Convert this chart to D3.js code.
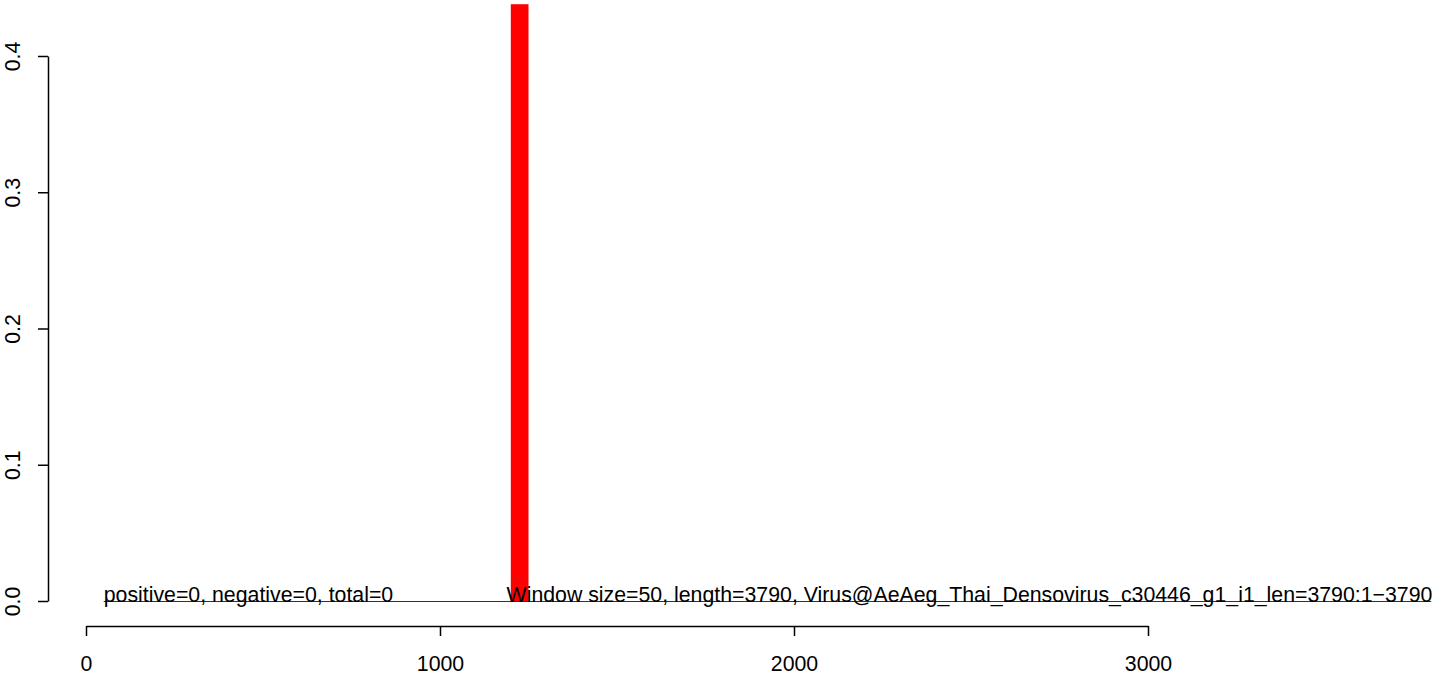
<!DOCTYPE html>
<html>
<head>
<meta charset="utf-8">
<script src="https://cdn.jsdelivr.net/npm/d3@7"></script>
<style>
  html, body { margin: 0; padding: 0; background: #fff; }
  svg { display: block; font-family: "Liberation Sans", Arial, sans-serif; }
</style>
</head>
<body>
<svg id="chart" width="1444" height="676"></svg>
<script>
// ---- data ----
const windowSize = 50;
const seqLength = 3790;
const binStarts = [1200];
const binValues = [0.438];
const xTicks = [0, 1000, 2000, 3000];
const yTicks = [0.0, 0.1, 0.2, 0.3, 0.4];
const statsLabel = "positive=0, negative=0, total=0";
const infoLabel = "Window size=50, length=3790, Virus@AeAeg_Thai_Densovirus_c30446_g1_i1_len=3790:1\u22123790";
const baselineRange = [50, 3800];
const statsLabelX = 50;
const infoLabelX = 1188;

// ---- layout ----
const svg = d3.select("#chart");
const x = d3.scaleLinear().domain([0, 3000]).range([86, 1148]);
const y = d3.scaleLinear().domain([0, 0.4]).range([601, 56]);
const fontSize = 21.3;

// bars
svg.append("g").selectAll("rect")
  .data(binStarts.map((s, i) => ({ s, v: binValues[i] })))
  .join("rect")
  .attr("x", d => x(d.s))
  .attr("width", d => x(d.s + windowSize) - x(d.s))
  .attr("y", d => y(d.v))
  .attr("height", d => y(0) - y(d.v))
  .attr("fill", "#ff0000");

// baseline line
svg.append("line")
  .attr("x1", x(baselineRange[0])).attr("x2", x(baselineRange[1]))
  .attr("y1", y(0) + 0.5).attr("y2", y(0) + 0.5)
  .attr("stroke", "#333").attr("stroke-width", 1);

// annotations
svg.append("text")
  .attr("x", x(statsLabelX)).attr("y", y(0) + 1)
  .attr("font-size", fontSize).attr("fill", "#000")
  .text(statsLabel);
svg.append("text")
  .attr("x", x(infoLabelX)).attr("y", y(0) + 1)
  .attr("font-size", fontSize).attr("fill", "#000")
  .text(infoLabel);

// x axis
const gx = svg.append("g")
  .attr("transform", "translate(0,626)")
  .call(d3.axisBottom(x).tickValues(xTicks).tickFormat(d3.format("d"))
    .tickSize(10).tickSizeOuter(0).tickPadding(20));
gx.select(".domain").attr("stroke", "#000").attr("stroke-width", 1.5);
gx.selectAll(".tick line").attr("stroke", "#000").attr("stroke-width", 1.5);
gx.selectAll(".tick text").attr("font-size", fontSize).attr("fill", "#000")
  .attr("font-family", "Liberation Sans, Arial, sans-serif");

// y axis
const gy = svg.append("g")
  .attr("transform", "translate(48,0)")
  .call(d3.axisLeft(y).tickValues(yTicks).tickFormat(d3.format(".1f"))
    .tickSize(10).tickSizeOuter(0));
gy.select(".domain").attr("stroke", "#000").attr("stroke-width", 1.5);
gy.selectAll(".tick line").attr("stroke", "#000").attr("stroke-width", 1.5);
gy.selectAll(".tick text")
  .attr("font-size", fontSize).attr("fill", "#000")
  .attr("font-family", "Liberation Sans, Arial, sans-serif")
  .attr("transform", "rotate(-90)")
  .attr("x", 0).attr("y", -28).attr("dy", null)
  .attr("text-anchor", "middle");
</script>
</body>
</html>
